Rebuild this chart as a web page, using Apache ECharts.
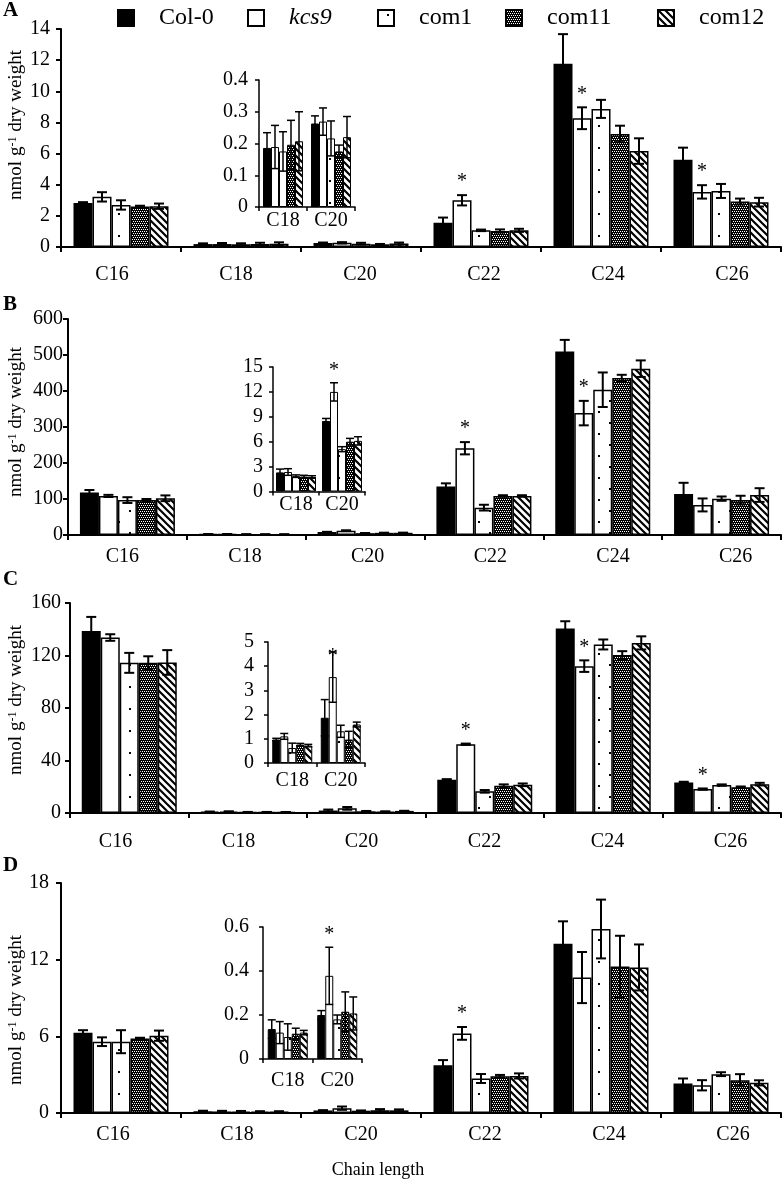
<!DOCTYPE html>
<html>
<head>
<meta charset="utf-8">
<script src="https://cdn.jsdelivr.net/npm/echarts@6/dist/echarts.min.js"></script>
<style>html,body{margin:0;padding:0;background:#fff}#chart{width:784px;height:1184px}</style>
</head>
<body>
<div id="chart"></div>
<script>
// ---------------- DATA ----------------
const categories = ['C16', 'C18', 'C20', 'C22', 'C24', 'C26'];
const insetCategories = ['C18', 'C20'];
const seriesNames = ['Col-0', 'kcs9', 'com1', 'com11', 'com12'];

// Panel A
const A_col0 = [2.83, 0.186, 0.263, 1.55, 11.77, 5.6];
const A_col0_err = [0.05, 0.048, 0.024, 0.34, 1.9, 0.78];
const A_kcs9 = [3.22, 0.189, 0.269, 3.0, 8.27, 3.54];
const A_kcs9_err = [0.3, 0.068, 0.043, 0.33, 0.7, 0.43];
const A_com1 = [2.7, 0.175, 0.216, 1.07, 8.87, 3.6];
const A_com1_err = [0.3, 0.062, 0.055, 0.05, 0.58, 0.45];
const A_com11 = [2.6, 0.196, 0.175, 1.03, 7.26, 2.92];
const A_com11_err = [0.05, 0.077, 0.02, 0.1, 0.53, 0.19];
const A_com12 = [2.62, 0.207, 0.22, 1.07, 6.16, 2.88];
const A_com12_err = [0.17, 0.093, 0.065, 0.1, 0.82, 0.28];
const A_yTicks = [0, 14, 2];
const A_insetTicks = [0, 0.4, 0.1];
const A_stars = [[3, 1], [4, 1], [5, 1]];
const A_insetStars = [];

// Panel B
const B_col0 = [118, 2.3, 8.5, 134.5, 510, 114];
const B_col0_err = [7, 0.4, 0.3, 9, 32, 31];
const B_kcs9 = [108.5, 2.35, 12.0, 241, 338.6, 83.5];
const B_kcs9_err = [3, 0.4, 1.1, 17, 34, 18];
const B_com1 = [97, 1.85, 5.1, 76, 403.5, 101];
const B_com1_err = [8, 0.15, 0.3, 8, 48, 6];
const B_com11 = [97, 1.8, 6.0, 108.5, 436, 97];
const B_com11_err = [3, 0.15, 0.4, 2, 9, 12];
const B_com12 = [102, 1.75, 6.1, 108.5, 462, 111];
const B_com12_err = [8, 0.15, 0.5, 2, 23, 19];
const B_yTicks = [0, 600, 100];
const B_insetTicks = [0, 15, 3];
const B_stars = [[3, 1], [4, 1]];
const B_insetStars = [[1, 1]];

// Panel C
const C_col0 = [138.7, 0.97, 1.87, 25.3, 140.5, 23.3];
const C_col0_err = [10.7, 0.05, 0.75, 0.5, 5.6, 0.5];
const C_kcs9 = [133.7, 1.1, 3.55, 52.4, 111.9, 18.2];
const C_kcs9_err = [2.5, 0.12, 1.04, 0.5, 4.4, 0.5];
const C_com1 = [114.4, 0.62, 1.31, 16.5, 128.4, 21.3];
const C_com1_err = [7.6, 0.2, 0.25, 1, 3.8, 0.5];
const C_com11 = [114.4, 0.76, 0.97, 20.8, 120.3, 19.7];
const C_com11_err = [5, 0.05, 0.34, 1, 3, 0.5];
const C_com12 = [114.7, 0.72, 1.59, 21.5, 129.6, 22];
const C_com12_err = [9.4, 0.05, 0.1, 1, 5, 1];
const C_yTicks = [0, 160, 40];
const C_insetTicks = [0, 5, 1];
const C_stars = [[3, 1], [4, 1], [5, 1]];
const C_insetStars = [[1, 1]];

// Panel D
const D_col0 = [6.28, 0.136, 0.2, 3.74, 13.25, 2.3];
const D_col0_err = [0.2, 0.042, 0.02, 0.4, 1.75, 0.4];
const D_kcs9 = [5.58, 0.12, 0.378, 6.23, 10.6, 2.17];
const D_kcs9_err = [0.34, 0.05, 0.13, 0.5, 2.0, 0.4];
const D_com1 = [5.58, 0.1, 0.18, 2.7, 14.4, 3.04];
const D_com1_err = [0.9, 0.06, 0.02, 0.35, 2.3, 0.15];
const D_com11 = [5.84, 0.115, 0.215, 2.88, 11.47, 2.57];
const D_com11_err = [0.05, 0.025, 0.09, 0.1, 2.4, 0.47];
const D_com12 = [6.05, 0.12, 0.207, 2.9, 11.39, 2.36];
const D_com12_err = [0.4, 0.01, 0.075, 0.2, 1.8, 0.2];
const D_yTicks = [0, 18, 6];
const D_insetTicks = [0, 0.6, 0.2];
const D_stars = [[3, 1]];
const D_insetStars = [[1, 1]];

const yTitle = 'nmol g{s|-1} dry weight';
const xTitle = 'Chain length';

// ---------------- STYLE ----------------
const FONT = 'Liberation Serif';
function makeCanvas(w, h, draw) {
  const c = document.createElement('canvas');
  c.width = w; c.height = h;
  const ctx = c.getContext('2d');
  draw(ctx, w, h);
  return c;
}
const dotsPat = makeCanvas(20, 22, (ctx, w, h) => {
  ctx.fillStyle = '#fff'; ctx.fillRect(0, 0, w, h);
  ctx.fillStyle = '#000'; ctx.fillRect(9, 4, 2, 2); ctx.fillRect(18, 15, 2, 2);
});
const checkPat = makeCanvas(4, 4, (ctx, w, h) => {
  ctx.fillStyle = '#000'; ctx.fillRect(0, 0, w, h);
  ctx.fillStyle = '#fff';
  ctx.fillRect(1, 1, 1, 1); ctx.fillRect(3, 1, 1, 1); ctx.fillRect(0, 3, 1, 1); ctx.fillRect(2, 3, 1, 1);
});
const stripePat = makeCanvas(7, 7, (ctx, w, h) => {
  ctx.fillStyle = '#fff'; ctx.fillRect(0, 0, w, h);
  ctx.strokeStyle = '#000'; ctx.lineWidth = 2.2;
  ctx.beginPath();
  ctx.moveTo(-1, -1); ctx.lineTo(w + 1, h + 1);
  ctx.moveTo(-1, h - 1); ctx.lineTo(1, h + 1);
  ctx.moveTo(w - 1, -1); ctx.lineTo(w + 1, 1);
  ctx.stroke();
});
const fills = ['#000', '#fff', { image: dotsPat, repeat: 'repeat' }, { image: checkPat, repeat: 'repeat' }, { image: stripePat, repeat: 'repeat' }];

const panels = [
  { letter: 'A', letterY: 11, titleY: 125,
    grid: { left: 61, top: 29, width: 720, height: 218 }, lab: { left: 50, width: 744, margin: 18 }, yLabM: 11,
    inset: { left: 259, top: 80, width: 96, height: 127 }, iLabM: 4, iYLabM: 11, istarGap: 12,
    ticks: A_yTicks, iticks: A_insetTicks,
    vals: [A_col0, A_kcs9, A_com1, A_com11, A_com12], errs: [A_col0_err, A_kcs9_err, A_com1_err, A_com11_err, A_com12_err],
    stars: A_stars, istars: A_insetStars },
  { letter: 'B', letterY: 305, titleY: 422,
    grid: { left: 68, top: 319, width: 713, height: 216 }, lab: { left: 61, width: 736, margin: 12 }, yLabM: 5,
    inset: { left: 273, top: 367, width: 92, height: 124.5 }, iLabM: 3, iYLabM: 10, istarGap: 12,
    ticks: B_yTicks, iticks: B_insetTicks,
    vals: [B_col0, B_kcs9, B_com1, B_com11, B_com12], errs: [B_col0_err, B_kcs9_err, B_com1_err, B_com11_err, B_com12_err],
    stars: B_stars, istars: B_insetStars },
  { letter: 'C', letterY: 580, titleY: 700,
    grid: { left: 70, top: 603, width: 711, height: 210 }, lab: { left: 54, width: 738, margin: 19 }, yLabM: 9,
    inset: { left: 268, top: 642, width: 97, height: 121 }, iLabM: 8, iYLabM: 14, istarGap: -5,
    ticks: C_yTicks, iticks: C_insetTicks,
    vals: [C_col0, C_kcs9, C_com1, C_com11, C_com12], errs: [C_col0_err, C_kcs9_err, C_com1_err, C_com11_err, C_com12_err],
    stars: C_stars, istars: C_insetStars },
  { letter: 'D', letterY: 866, titleY: 1010,
    grid: { left: 61, top: 883, width: 720, height: 230 }, lab: { left: 51, width: 744, margin: 12 }, yLabM: 12,
    inset: { left: 263, top: 927, width: 99, height: 132 }, iLabM: 12, iYLabM: 14, istarGap: 12,
    ticks: D_yTicks, iticks: D_insetTicks,
    vals: [D_col0, D_kcs9, D_com1, D_com11, D_com12], errs: [D_col0_err, D_kcs9_err, D_com1_err, D_com11_err, D_com12_err],
    stars: D_stars, istars: D_insetStars }
];

const grids = [], xAxes = [], yAxes = [], series = [], graphics = [];

function errRender(bw, cap, lw) {
  return function (params, api) {
    const c = api.value(0), v = api.value(1), e = api.value(2), s = api.value(3);
    const off = (s - 2) * bw;
    const top = api.coord([c, v + e]);
    const bot = api.coord([c, Math.max(v - e, 0)]);
    const x = top[0] + off;
    const st = { stroke: '#000', lineWidth: lw };
    return { type: 'group', children: [
      { type: 'line', shape: { x1: x, y1: top[1], x2: x, y2: bot[1] }, style: st },
      { type: 'line', shape: { x1: x - cap / 2, y1: top[1], x2: x + cap / 2, y2: top[1] }, style: st },
      { type: 'line', shape: { x1: x - cap / 2, y1: bot[1], x2: x + cap / 2, y2: bot[1] }, style: st }
    ] };
  };
}
function starRender(bw, gap) {
  return function (params, api) {
    const c = api.value(0), v = api.value(1), s = api.value(2);
    const p = api.coord([c, v]);
    return { type: 'text', x: p[0] + (s - 2) * bw, y: p[1] - gap,
      style: { text: '*', font: '20px "' + FONT + '"', fill: '#000', align: 'center', verticalAlign: 'middle' } };
  };
}

function addCartesian(gridRect, cats, ticks, opts) {
  const gi = grids.length;
  grids.push(Object.assign({ containLabel: false, outerBoundsMode: 'none' }, gridRect));
  const xi = xAxes.length, yi = yAxes.length;
  xAxes.push({ type: 'category', gridIndex: gi, data: cats,
    axisLine: { show: true, lineStyle: { color: '#000', width: opts.axisW } },
    axisTick: { show: true, inside: false, length: opts.tickLen, lineStyle: { color: '#000', width: opts.axisW } },
    axisLabel: { show: opts.xLabels, margin: opts.xLabM, fontFamily: FONT, fontSize: 20, color: '#000' },
    splitLine: { show: false } });
  yAxes.push({ type: 'value', gridIndex: gi, min: ticks[0], max: ticks[1], interval: ticks[2],
    axisLine: { show: true, lineStyle: { color: '#000', width: opts.axisW } },
    axisTick: { show: true, inside: false, length: opts.tickLen, lineStyle: { color: '#000', width: opts.axisW } },
    axisLabel: { margin: opts.yLabM, fontFamily: FONT, fontSize: 20, color: '#000' },
    splitLine: { show: false } });
  return { xi, yi };
}

panels.forEach((p, pi) => {
  // main
  const m = addCartesian(p.grid, categories, p.ticks, { axisW: 2, tickLen: 5, xLabels: false, xLabM: 8, yLabM: p.yLabM });
  // labels-only axis (category text placed as in figure)
  const gi = grids.length;
  grids.push({ containLabel: false, outerBoundsMode: 'none', left: p.lab.left, width: p.lab.width, top: p.grid.top, height: p.grid.height });
  xAxes.push({ type: 'category', gridIndex: gi, data: categories, axisLine: { show: false }, axisTick: { show: false },
    axisLabel: { margin: p.lab.margin, fontFamily: FONT, fontSize: 20, color: '#000' } });
  yAxes.push({ type: 'value', gridIndex: gi, show: false, min: 0, max: 1 });
  // inset
  const ins = addCartesian(p.inset, insetCategories, p.iticks, { axisW: 1.5, tickLen: 4, xLabels: true, xLabM: p.iLabM, yLabM: p.iYLabM });

  [[m, 19, 1.5, categories.length, 0, 10, 2, p.stars, 13], [ins, 8, 1, 2, 1, 8, 1.5, p.istars, p.istarGap]].forEach(([ax, bw, bwid, n, start, cap, lw, stars, gap]) => {
    const errData = [];
    for (let s = 0; s < 5; s++) {
      const vals = p.vals[s].slice(start, start + n);
      const errs = p.errs[s].slice(start, start + n);
      series.push({ type: 'bar', name: seriesNames[s], xAxisIndex: ax.xi, yAxisIndex: ax.yi, data: vals,
        barWidth: bw, barGap: '0%', animation: false, silent: true,
        itemStyle: { color: fills[s], borderColor: '#000', borderWidth: bwid } });
      vals.forEach((v, i) => errData.push([i, v, errs[i], s]));
    }
    series.push({ type: 'custom', xAxisIndex: ax.xi, yAxisIndex: ax.yi, data: errData, animation: false, silent: true,
      encode: { x: 0, y: 1 }, renderItem: errRender(bw, cap, lw), z: 5 });
    const starData = stars.map(([c, s]) => [c, p.vals[s][c + start] + p.errs[s][c + start], s]);
    if (starData.length) {
      series.push({ type: 'custom', xAxisIndex: ax.xi, yAxisIndex: ax.yi, data: starData, animation: false, silent: true,
        encode: { x: 0, y: 1 }, renderItem: starRender(bw, gap), z: 6 });
    }
  });

  graphics.push({ type: 'text', left: 3, top: p.letterY - 11,
    style: { text: p.letter, font: 'bold 21px "' + FONT + '"', fill: '#000' } });
  graphics.push({ type: 'text', x: 16.5, y: p.titleY, rotation: Math.PI / 2,
    style: { text: yTitle, fontFamily: FONT, fontSize: 19, fill: '#000', align: 'center', verticalAlign: 'middle',
      rich: { s: { fontFamily: FONT, fontSize: 12, verticalAlign: 'top', lineHeight: 14 } } } });
});

graphics.push({ type: 'text', x: 378, y: 1170,
  style: { text: xTitle, fontFamily: FONT, fontSize: 18, fill: '#000', align: 'center', verticalAlign: 'middle' } });

const legendLefts = [117, 247, 377, 505, 657];
const legends = seriesNames.map((n, i) => ({
  data: [n], left: legendLefts[i], top: 6, padding: 0, orient: 'horizontal', icon: 'rect',
  itemWidth: 16, itemHeight: 16, selectedMode: false,
  formatter: name => name === 'kcs9' ? '{i|kcs9}' : name,
  textStyle: { fontFamily: FONT, fontSize: 24, color: '#000', lineHeight: 24, padding: [0, 0, 0, 20],
    rich: { i: { fontFamily: FONT, fontSize: 24, fontStyle: 'italic', color: '#000', lineHeight: 24 } } }
}));

const chart = echarts.init(document.getElementById('chart'), null, { renderer: 'canvas' });
chart.setOption({
  backgroundColor: '#fff',
  animation: false,
  legend: legends,
  grid: grids,
  xAxis: xAxes,
  yAxis: yAxes,
  series: series,
  graphic: graphics
});
</script>
</body>
</html>
